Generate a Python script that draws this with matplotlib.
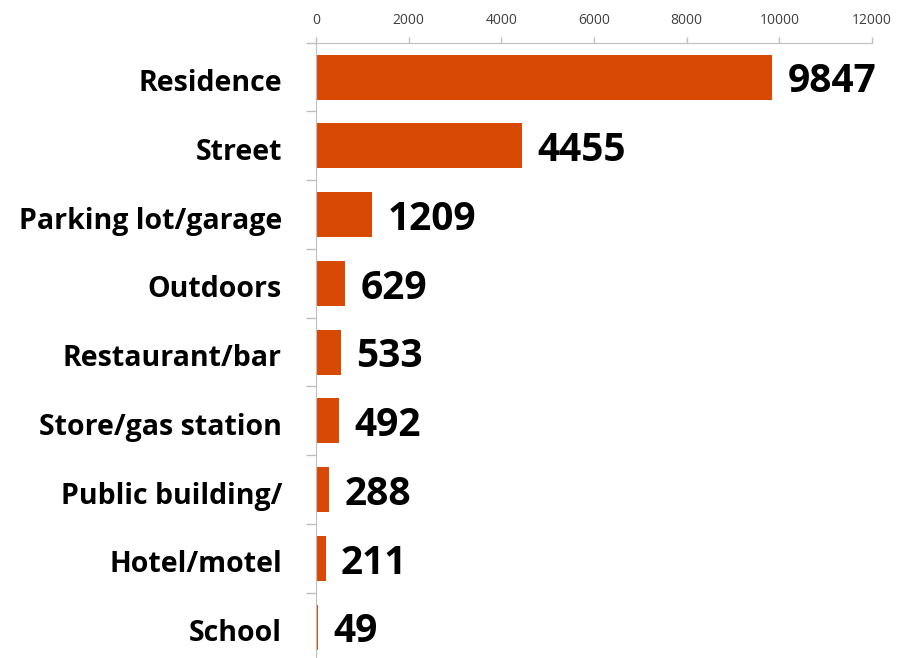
import matplotlib.pyplot as plt
import matplotlib.transforms as mtransforms

plt.rcParams['font.family'] = ['Open Sans', 'DejaVu Sans']

categorias = ['Residence', 'Street', 'Parking lot/garage', 'Outdoors', 'Restaurant/bar',
              'Store/gas station', 'Public building/', 'Hotel/motel', 'School']
valores = [9847, 4455, 1209, 629, 533, 492, 288, 211, 49]
ticks_x = [0, 2000, 4000, 6000, 8000, 10000, 12000]

color_barra = '#D84A04'
gris = '#BFBFBF'

fig = plt.figure(figsize=(9.05, 6.58), dpi=100)
ax = fig.add_axes([316 / 905, -3.5 / 658, 556 / 905, 618.8 / 658])

pos = list(range(len(categorias)))
ax.barh(pos, valores, height=0.655, color=color_barra)
ax.set_ylim(len(categorias) - 0.5, -0.5)
ax.set_xlim(0, 12000)

# etiquetas de valor (un poco abajo del centro, como en el original)
for y, v in zip(pos, valores):
    ax.text(v + 330, y + 0.07, str(v), va='center', ha='left',
            fontsize=28, fontweight='bold', color='black')

ax.xaxis.tick_top()
ax.set_xticks(ticks_x)
ax.set_xticklabels([str(t) for t in ticks_x], fontsize=10, color='#404040')
ax.tick_params(axis='x', length=4.3, color=gris, width=1, pad=6)

ax.set_yticks([p + 0.5 for p in pos[:-1]] + [-0.5], minor=True)
ax.set_yticks(pos)
ax.set_yticklabels(categorias, fontsize=20.5, fontweight='bold', color='black')
ax.tick_params(axis='y', which='major', length=0, pad=24.5)
ax.tick_params(axis='y', which='minor', length=7, color=gris, width=1)

desplazar = mtransforms.ScaledTranslation(0, -3 / 100, fig.dpi_scale_trans)
for lbl in ax.get_yticklabels():
    lbl.set_transform(lbl.get_transform() + desplazar)

for s in ['right', 'bottom']:
    ax.spines[s].set_visible(False)
ax.spines['top'].set_color(gris)
ax.spines['left'].set_color(gris)

fig.savefig('out.png', dpi=100)
